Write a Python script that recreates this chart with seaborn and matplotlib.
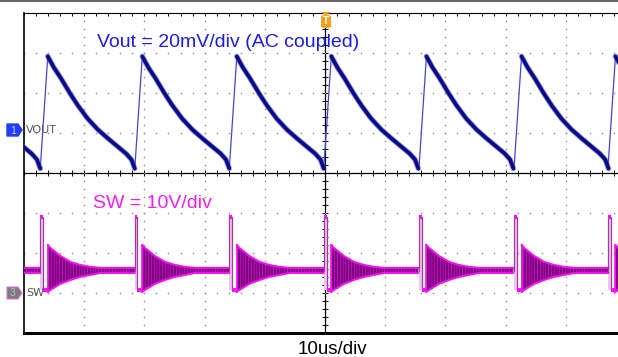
import matplotlib
matplotlib.use("Agg")
import matplotlib.pyplot as plt
from matplotlib.patches import Polygon, FancyBboxPatch
from matplotlib.lines import Line2D
import numpy as np
import pandas as pd
import seaborn as sns

CYCLE_START_US = [-63.0, -47.3, -31.6, -15.9, -0.2, 15.6, 31.4, 47.0]

# Vout (mV, acoplamento AC): subida rapida e depois descida ate o proximo ciclo
VOUT_RISE_US = 1.25
VOUT_DECAY_T_US = [0.0, 1.0, 2.2, 3.7, 5.0, 6.6, 8.3, 10.0, 11.6, 13.0, 13.9, 14.45]
VOUT_DECAY_MV = [36.5, 31.0, 25.5, 18.0, 12.0, 5.5, 0.0, -4.5, -8.5, -12.0, -15.0, -19.5]

# SW (V): pulso alto, curto intervalo baixo, depois oscilacao amortecida
SW_HIGH_V = 19.0
SW_LOW_V = 0.75
SW_HIGH_END_US = 0.45
SW_LOW_END_US = 1.25
SW_RING_T_US = [1.25, 1.66, 2.5, 3.3, 4.15, 5.0, 6.6, 8.3, 10.0, 15.7]
SW_RING_UPPER_V = [12.0, 11.25, 10.25, 9.25, 8.5, 7.75, 7.0, 6.5, 6.25, 6.25]
SW_RING_LOWER_V = [0.25, 0.75, 1.5, 2.25, 2.75, 3.25, 4.0, 4.5, 5.0, 5.0]

# escalas e posicoes dos canais (em divisoes)
VOUT_MV_PER_DIV = 20.0
VOUT_OFFSET_DIV = 1.08
SW_V_PER_DIV = 10.0
SW_OFFSET_DIV = -3.0

W, H = 618, 357

sns.set_theme(style="white")
plt.rcParams['font.family'] = ['Liberation Sans', 'DejaVu Sans']
plt.rcParams['hatch.linewidth'] = 0.45


def px(x, y):
    return (x / W, 1 - y / H)


def vout_div(mv):
    return VOUT_OFFSET_DIV + np.asarray(mv) / VOUT_MV_PER_DIV


def sw_div(v):
    return SW_OFFSET_DIV + np.asarray(v) / SW_V_PER_DIV


fig = plt.figure(figsize=(W / 100, H / 100), dpi=100)
ax = fig.add_axes([24 / W, 24 / H, 602 / W, 320.5 / H])
ax.set_xlim(-50, 50)
ax.set_ylim(-4, 4)

# grade pontilhada do osciloscopio
for gx in [-40, -30, -20, -10, 10, 20, 30, 40]:
    ys = np.arange(-4, 4.01, 0.2)
    ax.plot(np.full_like(ys, gx), ys, ls='none', marker='s', ms=1.0, color='#8a8a8a', mew=0)
for gy in [-3, -2, -1, 1, 2, 3]:
    xs = np.arange(-50, 50.1, 2)
    ax.plot(xs, np.full_like(xs, gy), ls='none', marker='s', ms=1.0, color='#8a8a8a', mew=0)

# eixos centrais com marcas
ax.axhline(0, color='black', lw=0.9, zorder=1)
ax.axvline(0, color='black', lw=0.9, zorder=1)
xs = np.arange(-50, 50.1, 2)
ax.plot(xs, np.zeros_like(xs), ls='none', marker='|', ms=4.5, mew=0.7, color='black', zorder=1)
ys = np.arange(-4, 4.01, 0.2)
ax.plot(np.zeros_like(ys), ys, ls='none', marker='_', ms=4.5, mew=0.7, color='black', zorder=1)

# --- Vout ---
decay_rows = []
rise_rows = []
for i, c in enumerate(CYCLE_START_US):
    peak_t = c + VOUT_RISE_US
    for t, mv in zip(VOUT_DECAY_T_US, VOUT_DECAY_MV):
        decay_rows.append({'ciclo': i, 't': peak_t + t, 'div': float(vout_div(mv))})
    rise_rows.append({'ciclo': i, 't': c, 'div': float(vout_div(VOUT_DECAY_MV[-1]))})
    rise_rows.append({'ciclo': i, 't': peak_t, 'div': float(vout_div(VOUT_DECAY_MV[0]))})
df_decay = pd.DataFrame(decay_rows)
df_rise = pd.DataFrame(rise_rows)

sns.lineplot(data=df_rise, x='t', y='div', units='ciclo', estimator=None, sort=False,
             color='#4444d4', lw=0.9, ax=ax, zorder=3)
sns.lineplot(data=df_decay, x='t', y='div', units='ciclo', estimator=None, sort=False,
             color='#5656d8', lw=4.0, ax=ax, zorder=3, alpha=0.55)
sns.lineplot(data=df_decay, x='t', y='div', units='ciclo', estimator=None, sort=False,
             color='#0b0b86', lw=2.7, ax=ax, zorder=4)

# --- SW ---
for c in CYCLE_START_US:
    # pulso
    ax.fill_between([c, c + SW_HIGH_END_US], sw_div(SW_LOW_V), sw_div(SW_HIGH_V),
                    color='#efc6ef', lw=0, zorder=3)
    ax.plot([c, c, c + SW_HIGH_END_US, c + SW_HIGH_END_US, c + SW_LOW_END_US],
            sw_div([5.6, SW_HIGH_V, SW_HIGH_V, SW_LOW_V, SW_LOW_V]),
            color='#a03aa0', lw=0.9, zorder=4)
    ax.plot([c, c + SW_HIGH_END_US], sw_div([SW_HIGH_V, SW_HIGH_V]),
            color='#f018f0', lw=3.0, solid_capstyle='butt', zorder=5)
    ax.plot([c + SW_HIGH_END_US, c + SW_LOW_END_US], sw_div([SW_LOW_V, SW_LOW_V]),
            color='#f018f0', lw=3.0, solid_capstyle='butt', zorder=5)
    # oscilacao amortecida + nivel de repouso
    tr = c + np.asarray(SW_RING_T_US)
    ax.fill_between(tr, sw_div(SW_RING_LOWER_V), sw_div(SW_RING_UPPER_V),
                    facecolor='#7c007c', edgecolor='#d81cd8', hatch='||||||', lw=0, zorder=3)
    ax.plot(tr, sw_div(SW_RING_UPPER_V), color='#f010f0', lw=1.5, zorder=4)
    ax.plot(tr, sw_div(SW_RING_LOWER_V), color='#f010f0', lw=1.5, zorder=4)
    ax.plot([tr[0], tr[0]], sw_div([SW_RING_LOWER_V[0], SW_RING_UPPER_V[0]]),
            color='#f010f0', lw=1.2, zorder=4)

# bordas e marcas
ax.set_xticks(np.arange(-50, 50.1, 2))
ax.set_yticks(np.arange(-4, 4.01, 0.2))
ax.tick_params(direction='in', length=2.5, width=0.7, top=True, right=False,
               labelbottom=False, labelleft=False, color='black')
ax.set_xlabel('')
ax.set_ylabel('')
ax.grid(False)
for side, lw in [('left', 1.2), ('bottom', 2.2), ('top', 0.8), ('right', 0.8)]:
    ax.spines[side].set_color('black')
    ax.spines[side].set_linewidth(lw)

# textos
ax.text(-37.9, 3.15, "Vout = 20mV/div (AC coupled)", color='#1c1cf2', fontsize=14,
        va='baseline', ha='left', zorder=6)
ax.text(-38.5, -0.875, "SW = 10V/div", color='#f020f0', fontsize=14,
        va='baseline', ha='left', zorder=6)
fig.text(332 / W, 3 / H, "10us/div", fontsize=13.5, color='black', ha='center', va='baseline')

# marcadores de canal
fig.add_artist(Polygon([px(7, 124), px(18, 124), px(22, 130), px(18, 136), px(7, 136)],
                       closed=True, transform=fig.transFigure, fc='#1f3cff', ec='#1f3cff'))
fig.text(*px(13, 130.5), "1", color='#c8d0ff', fontsize=7.5, ha='center', va='center')
fig.text(*px(26, 130), "VOUT", color='#555555', fontsize=8, ha='left', va='center',
         family='DejaVu Sans')
fig.add_artist(Polygon([px(7, 287), px(18, 287), px(22, 293), px(18, 299), px(7, 299)],
                       closed=True, transform=fig.transFigure, fc='#7a7a7a', ec='#e070e0', lw=0.8))
fig.text(*px(13, 293.5), "3", color='#bbbbbb', fontsize=7.5, ha='center', va='center')
fig.text(*px(26, 293), "SW", color='#555555', fontsize=8, ha='left', va='center',
         family='DejaVu Sans')

# marcador de trigger
fig.add_artist(Polygon([px(321.5, 12), px(330.5, 12), px(326, 16)], closed=True,
                       transform=fig.transFigure, fc='#f5a01e', ec='none'))
x0, y0 = px(321, 28)
x1, y1 = px(331, 15)
fig.add_artist(FancyBboxPatch((x0, y0), x1 - x0, y1 - y0, boxstyle='round,pad=0,rounding_size=0.006',
                              transform=fig.transFigure, fc='#f5a01e', ec='none'))
fig.text(*px(326, 21.5), "T", color='white', fontsize=7, ha='center', va='center', weight='bold')

# linha cinza no topo da tela
fig.add_artist(Line2D([0, 1], [1 - 1 / H, 1 - 1 / H], transform=fig.transFigure,
                      color='#4a4a4a', lw=1.2))

fig.savefig("out.png", dpi=100)
